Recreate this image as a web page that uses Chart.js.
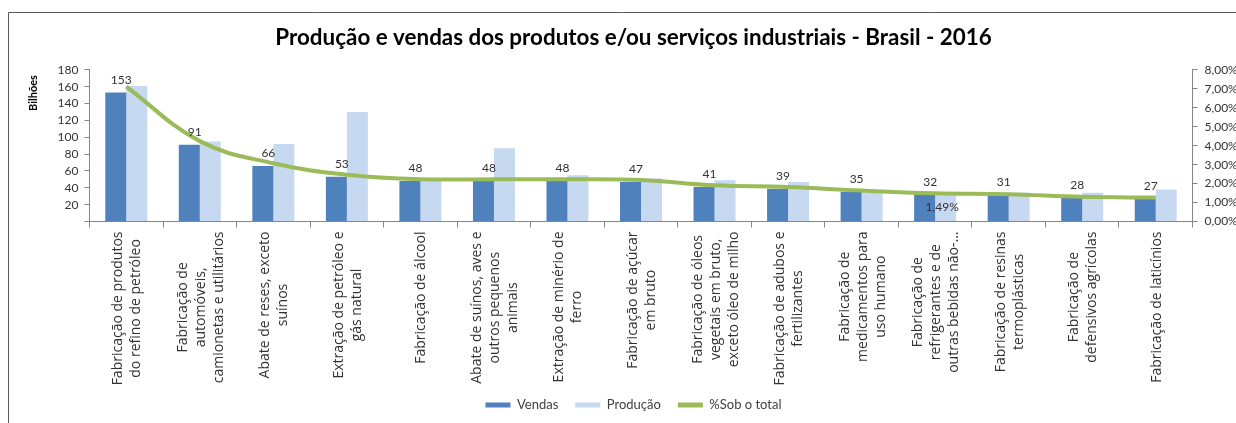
<!DOCTYPE html>
<html lang="pt-BR">
<head>
<meta charset="utf-8">
<title>Produção e vendas dos produtos e/ou serviços industriais - Brasil - 2016</title>
<script src="https://cdn.jsdelivr.net/npm/chart.js@4.4.1/dist/chart.umd.min.js"></script>
<style>
  html, body { margin: 0; padding: 0; background: #fff; }
  #wrap { position: relative; width: 1236px; height: 423px; }
</style>
</head>
<body>
<div id="wrap"><canvas id="chart" width="1236" height="423"></canvas></div>
<script>
// Categorias (quebradas em linhas como aparecem no eixo)
const categorias = [
  ["Fabricação de produtos", "do refino de petróleo"],
  ["Fabricação de", "automóveis,", "camionetas e utilitários"],
  ["Abate de reses, exceto", "suínos"],
  ["Extração de petróleo e", "gás natural"],
  ["Fabricação de álcool"],
  ["Abate de suínos, aves e", "outros pequenos", "animais"],
  ["Extração de minério de", "ferro"],
  ["Fabricação de açúcar", "em bruto"],
  ["Fabricação de óleos", "vegetais em bruto,", "exceto óleo de milho"],
  ["Fabricação de adubos e", "fertilizantes"],
  ["Fabricação de", "medicamentos para", "uso humano"],
  ["Fabricação de", "refrigerantes e de", "outras bebidas não-..."],
  ["Fabricação de resinas", "termoplásticas"],
  ["Fabricação de", "defensivos agrícolas"],
  ["Fabricação de laticínios"]
];

// Valores em bilhões de R$
const vendas = [153, 91, 66, 53, 48, 48, 48, 47, 41, 39, 35, 32, 31, 28, 27];
const producao = [161, 95, 92, 130, 49, 87, 55, 51, 49, 47, 37, 34, 34, 34, 38];

// Participação das vendas no total (%)
const percentual = [7.12, 4.24, 3.07, 2.47, 2.23, 2.23, 2.23, 2.19, 1.91, 1.82, 1.63, 1.49, 1.44, 1.30, 1.26];

// Eixos
const eixoBilhoes = { max: 180, passo: 20 };
const eixoPercentual = { max: 8, passo: 1 };
const indiceRotuloPct = 11; // ponto da linha com rótulo

const corVendas = "#4F81BD";
const corProducao = "#C6D9F1";
const corLinha = "#9BBB59";
const corEixo = "#868686";
const corTexto = "#333333";

function formatPct(v) {
  return v.toFixed(2).replace(".", ",") + "%";
}

// Moldura, rótulos das categorias, rótulos de dados e título do eixo
const decoracao = {
  id: "decoracao",
  beforeDraw(chart) {
    const ctx = chart.ctx;
    ctx.save();
    ctx.strokeStyle = "#595959";
    ctx.lineWidth = 1;
    ctx.beginPath();
    ctx.moveTo(8.5, chart.height);
    ctx.lineTo(8.5, 12.5);
    ctx.lineTo(chart.width, 12.5);
    ctx.stroke();
    ctx.restore();
  },
  afterDatasetsDraw(chart) {
    const ctx = chart.ctx;
    ctx.save();
    ctx.fillStyle = corTexto;
    ctx.font = '12px Lato';
    ctx.textAlign = "center";
    ctx.textBaseline = "alphabetic";
    const barras = chart.getDatasetMeta(1).data;
    barras.forEach((bar, i) => {
      ctx.fillText(String(vendas[i]), bar.x + 5.5, bar.y - 9);
    });
    const pontos = chart.getDatasetMeta(0).data;
    const p = pontos[indiceRotuloPct];
    ctx.textBaseline = "middle";
    ctx.fillText(formatPct(percentual[indiceRotuloPct]), p.x + 7, p.y + 14);
    ctx.restore();
  },
  afterDraw(chart) {
    const ctx = chart.ctx;
    const x = chart.scales.x;
    ctx.save();
    ctx.fillStyle = corTexto;
    ctx.font = '14px "Open Sans"';
    const topo = chart.chartArea.bottom + 10;
    const entreLinhas = 18;
    categorias.forEach((linhas, i) => {
      const cx = x.getPixelForValue(i) + 1;
      const largura = Math.max(...linhas.map(l => ctx.measureText(l).width));
      ctx.save();
      ctx.translate(cx, topo + largura / 2);
      ctx.rotate(-Math.PI / 2);
      ctx.textAlign = "center";
      ctx.textBaseline = "middle";
      linhas.forEach((l, j) => {
        ctx.fillText(l, 0, (j - (linhas.length - 1) / 2) * entreLinhas);
      });
      ctx.restore();
    });

    // título do eixo vertical
    ctx.font = 'bold 11px Lato';
    ctx.fillStyle = "#000";
    ctx.translate(33, 93);
    ctx.rotate(-Math.PI / 2);
    ctx.textAlign = "center";
    ctx.textBaseline = "middle";
    ctx.fillText("Bilhões", 0, 0);
    ctx.restore();
  }
};

Chart.defaults.font.family = "Lato";
Chart.defaults.color = corTexto;

new Chart(document.getElementById("chart"), {
  type: "bar",
  data: {
    labels: categorias.map(c => c.join(" ")),
    datasets: [
      {
        type: "line",
        label: "%Sob o total",
        data: percentual,
        yAxisID: "y1",
        borderColor: corLinha,
        backgroundColor: corLinha,
        borderWidth: 4,
        pointRadius: 0,
        tension: 0.4,
        order: 0
      },
      {
        label: "Vendas",
        data: vendas,
        backgroundColor: corVendas,
        yAxisID: "y",
        categoryPercentage: 0.571,
        barPercentage: 1,
        order: 1
      },
      {
        label: "Produção",
        data: producao,
        backgroundColor: corProducao,
        yAxisID: "y",
        categoryPercentage: 0.571,
        barPercentage: 1,
        order: 2
      }
    ]
  },
  options: {
    responsive: false,
    animation: false,
    layout: { padding: { left: 31, right: 0, top: 0, bottom: 1.5 } },
    plugins: {
      title: {
        display: true,
        text: "Produção e vendas dos produtos e/ou serviços industriais - Brasil - 2016",
        font: { family: "Lato", size: 22.4, weight: "bold" },
        color: "#000",
        padding: { top: 24, bottom: 19 }
      },
      legend: {
        position: "bottom",
        labels: {
          boxWidth: 25,
          boxHeight: 5,
          padding: 17,
          font: { size: 13 },
          color: "#404040",
          generateLabels(chart) {
            const itens = Chart.defaults.plugins.legend.labels.generateLabels(chart);
            const ordem = ["Vendas", "Produção", "%Sob o total"];
            return itens
              .map(it => ({ ...it, lineWidth: 0 }))
              .sort((a, b) => ordem.indexOf(a.text) - ordem.indexOf(b.text));
          }
        }
      },
      tooltip: { enabled: false }
    },
    scales: {
      x: {
        offset: true,
        ticks: { display: false },
        grid: { offset: true, drawOnChartArea: false, tickLength: 6, color: corEixo },
        border: { color: corEixo },
        afterFit(scale) { scale.height = 160; }
      },
      y: {
        position: "left",
        min: 0,
        max: eixoBilhoes.max,
        ticks: {
          stepSize: eixoBilhoes.passo,
          autoSkip: false,
          padding: 6,
          font: { size: 12 },
          color: corTexto,
          callback: v => (v === 0 ? "" : v)
        },
        grid: { drawOnChartArea: false, tickLength: 5, color: corEixo },
        border: { color: corEixo },
        afterFit(scale) { scale.width = 58.5; }
      },
      y1: {
        position: "right",
        min: 0,
        max: eixoPercentual.max,
        ticks: {
          stepSize: eixoPercentual.passo,
          autoSkip: false,
          padding: 7,
          font: { size: 12 },
          color: corTexto,
          callback: v => formatPct(v)
        },
        grid: { drawOnChartArea: false, tickLength: 5, color: corEixo },
        border: { color: corEixo },
        afterFit(scale) { scale.width = 43.5; }
      }
    }
  },
  plugins: [decoracao]
});
</script>
</body>
</html>
